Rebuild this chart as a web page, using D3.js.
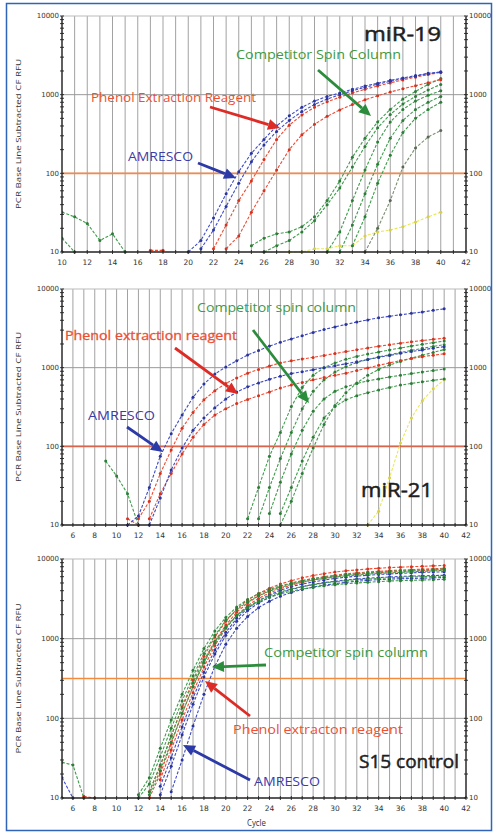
<!DOCTYPE html>
<html>
<head>
<meta charset="utf-8">
<script src="https://cdn.jsdelivr.net/npm/d3@7"></script>
<style>
  body { margin: 0; background: #fff; }
  svg { display: block; }
</style>
</head>
<body>
<svg width="496" height="834"></svg>
<script>
// ---- tick labels ----
const xLabelsMir19 = [10, 12, 14, 16, 18, 20, 22, 24, 26, 28, 30, 32, 34, 36, 38, 40, 42];
const xLabelsWide = [6, 8, 10, 12, 14, 16, 18, 20, 22, 24, 26, 28, 30, 32, 34, 36, 38, 40, 42];
const yLabels = [10, 100, 1000, 10000];

// ---- miR-19 (values per cycle, first value at the start cycle) ----
const m19BlueA = [10, 14, 27, 55, 105, 180, 270, 400, 540, 690, 830, 950, 1050, 1170, 1290, 1400, 1520, 1630, 1750, 1870, 1950];
const m19BlueB = [11, 19, 38, 75, 140, 230, 340, 470, 610, 750, 880, 1000, 1120, 1240, 1360, 1480, 1600, 1720, 1840, 1930];
const m19RedA = [11, 22, 45, 80, 150, 270, 410, 550, 690, 810, 930, 1050, 1170, 1290, 1410, 1540, 1670, 1800, 1920];
const m19RedB = [11, 16, 32, 60, 110, 200, 310, 420, 530, 640, 750, 860, 970, 1080, 1190, 1300, 1420, 1550];
const m19RedNoise = [10.5, 10.5];
const m19Green1 = [12, 15, 17, 18, 21, 28, 45, 80, 160, 280, 450, 650, 880, 1100, 1350, 1600];
const m19Green2 = [10, 12, 14, 18, 25, 40, 65, 120, 220, 380, 560, 760, 950, 1150, 1350];
const m19Green3 = [10, 18, 45, 110, 250, 450, 650, 830, 980, 1120];
const m19Green4 = [10, 22, 55, 130, 280, 470, 650, 800, 950];
const m19Green5 = [12, 28, 75, 170, 330, 500, 650, 800];
const m19Green6 = [10, 20, 45, 120, 210, 290, 350];
const m19NoiseA = [32, 28, 23, 14, 17, 10];
const m19NoiseB = [15, 10];
const m19Yellow = [10, 10, 11, 11, 12, 12, 16, 18, 19, 21, 24, 28, 32];

// ---- miR-21 ----
const m21BlueA = [10, 13, 30, 75, 145, 250, 420, 620, 830, 1020, 1220, 1450, 1650, 1880, 2100, 2320, 2550, 2800, 3050, 3300, 3550, 3800, 4050, 4300, 4500, 4700, 4900, 5100, 5350, 5600];
const m21RedA = [12, 20, 45, 90, 170, 270, 390, 510, 630, 740, 850, 950, 1050, 1150, 1220, 1290, 1350, 1430, 1510, 1600, 1690, 1780, 1870, 1960, 2050, 2130, 2210, 2290, 2370];
const m21BlueB = [10, 22, 50, 95, 160, 230, 310, 400, 490, 570, 640, 710, 780, 840, 890, 940, 1000, 1060, 1120, 1190, 1270, 1350, 1430, 1520, 1600, 1680, 1770, 1850];
const m21RedB = [12, 25, 45, 80, 130, 190, 250, 300, 350, 395, 440, 490, 550, 600, 650, 700, 750, 800, 850, 920, 990, 1070, 1150, 1230, 1310, 1380, 1440, 1500];
const m21RedNoise = [12, 10];
const m21GreenNoise = [65, 42, 25, 10];
const m21Green1 = [12, 30, 75, 150, 320, 560, 800, 1000, 1150, 1280, 1390, 1490, 1580, 1680, 1780, 1880, 1980, 2080, 2180];
const m21Green2 = [12, 30, 70, 150, 300, 500, 700, 880, 1030, 1160, 1270, 1370, 1460, 1560, 1660, 1760, 1860, 1960];
const m21Green3 = [14, 35, 80, 160, 280, 400, 500, 570, 630, 680, 720, 760, 800, 840, 880, 920, 960];
const m21Green4 = [14, 30, 65, 130, 230, 320, 390, 440, 480, 520, 560, 600, 630, 660, 690, 720];
const m21Green5 = [10, 20, 45, 95, 190, 330, 480, 640, 800, 950, 1080, 1200, 1320, 1440, 1560, 1700];
const m21Yellow = [10, 15, 40, 110, 230, 380, 540, 700];

// ---- S15 control ----
const s15Green1 = [11, 18, 42, 95, 200, 400, 750, 1250, 1850, 2500, 3100, 3650, 4150, 4600, 5000, 5350, 5650, 5900, 6150, 6350, 6550, 6700, 6850, 7000, 7100, 7200, 7300, 7400, 7500];
const s15Green2 = [10, 15, 33, 75, 165, 340, 650, 1100, 1700, 2300, 2900, 3450, 3950, 4400, 4800, 5150, 5450, 5700, 5950, 6150, 6300, 6450, 6600, 6700, 6800, 6900, 7000, 7100, 7200];
const s15Green3 = [12, 26, 60, 135, 280, 540, 920, 1400, 1950, 2450, 2900, 3300, 3650, 3950, 4200, 4400, 4600, 4750, 4900, 5000, 5100, 5200, 5300, 5350, 5400, 5450, 5500, 5550];
const s15Green4 = [11, 22, 50, 115, 250, 500, 880, 1380, 1950, 2500, 3000, 3450, 3850, 4200, 4500, 4750, 5000, 5200, 5350, 5500, 5600, 5700, 5800, 5900, 5950, 6000, 6050, 6100];
const s15Red1 = [12, 25, 60, 140, 300, 600, 1050, 1650, 2350, 3050, 3700, 4300, 4850, 5350, 5800, 6200, 6550, 6850, 7100, 7300, 7500, 7650, 7800, 7900, 8000, 8100, 8200, 8300];
const s15Red2 = [10, 20, 48, 115, 250, 510, 920, 1480, 2150, 2800, 3450, 4000, 4500, 4950, 5350, 5700, 6000, 6250, 6500, 6700, 6850, 7000, 7150, 7250, 7350, 7450, 7550, 7650];
const s15Red3 = [17, 40, 95, 210, 440, 820, 1350, 1950, 2600, 3200, 3750, 4250, 4700, 5100, 5450, 5750, 6000, 6250, 6450, 6600, 6750, 6850, 6950, 7050, 7150, 7250, 7350];
const s15Blue1 = [14, 32, 78, 180, 380, 720, 1200, 1800, 2400, 3000, 3550, 4050, 4500, 4850, 5150, 5450, 5700, 5900, 6100, 6250, 6400, 6500, 6600, 6700, 6800, 6850, 6900];
const s15Blue2 = [11, 25, 62, 150, 330, 640, 1100, 1650, 2250, 2800, 3300, 3750, 4150, 4500, 4800, 5050, 5250, 5450, 5600, 5750, 5850, 5950, 6050, 6100, 6150, 6200, 6250];
const s15Blue3 = [12, 30, 80, 200, 450, 850, 1350, 1900, 2450, 2950, 3400, 3800, 4150, 4450, 4700, 4900, 5100, 5250, 5400, 5500, 5600, 5650, 5700, 5750, 5800, 5850];
const s15GreenNoise = [28, 26, 10];
const s15BlueNoise = [18, 10];
const s15RedNoise = [10.5, 10];

const col = { blue: "#3f4cc4", red: "#ef4b33", green: "#3f9c4c", yellow: "#e8e85a", gray: "#7b8f70" };
const dot = { blue: "#2b35a0", red: "#d8321e", green: "#2a7e36", yellow: "#d8d040", gray: "#5a6a52" };

const panels = [
  {
    id: 1, top: 16, bottom: 252, xDomain: [10, 42], xLabels: xLabelsMir19,
    threshold: 100, thColor: "#f28a4c",
    series: [
      { c: "yellow", s: 28, v: m19Yellow },
      { c: "green", s: 10, v: m19NoiseA },
      { c: "green", s: 10, v: m19NoiseB },
      { c: "green", s: 25, v: m19Green1 },
      { c: "green", s: 26, v: m19Green2 },
      { c: "green", s: 31, v: m19Green3 },
      { c: "green", s: 32, v: m19Green4 },
      { c: "green", s: 33, v: m19Green5 },
      { c: "gray", s: 34, v: m19Green6 },
      { c: "red", s: 17, v: m19RedNoise },
      { c: "red", s: 22, v: m19RedA },
      { c: "red", s: 23, v: m19RedB },
      { c: "blue", s: 20, v: m19BlueA },
      { c: "blue", s: 21, v: m19BlueB }
    ]
  },
  {
    id: 2, top: 289, bottom: 525, xDomain: [5, 42], xLabels: xLabelsWide,
    threshold: 100, thColor: "#d8654c",
    series: [
      { c: "yellow", s: 33, v: m21Yellow },
      { c: "green", s: 9, v: m21GreenNoise },
      { c: "green", s: 22, v: m21Green1 },
      { c: "green", s: 23, v: m21Green2 },
      { c: "green", s: 24, v: m21Green3 },
      { c: "green", s: 25, v: m21Green4 },
      { c: "green", s: 25, v: m21Green5 },
      { c: "red", s: 11, v: m21RedNoise },
      { c: "red", s: 12, v: m21RedA },
      { c: "red", s: 13, v: m21RedB },
      { c: "blue", s: 11, v: m21BlueA },
      { c: "blue", s: 13, v: m21BlueB }
    ]
  },
  {
    id: 3, top: 559, bottom: 798, xDomain: [5, 42], xLabels: xLabelsWide,
    threshold: 316, thColor: "#f58a3a",
    series: [
      { c: "green", s: 5, v: s15GreenNoise },
      { c: "blue", s: 5, v: s15BlueNoise },
      { c: "red", s: 7, v: s15RedNoise },
      { c: "blue", s: 14, v: s15Blue1 },
      { c: "blue", s: 14, v: s15Blue2 },
      { c: "blue", s: 15, v: s15Blue3 },
      { c: "red", s: 13, v: s15Red1 },
      { c: "red", s: 13, v: s15Red2 },
      { c: "red", s: 14, v: s15Red3 },
      { c: "green", s: 12, v: s15Green1 },
      { c: "green", s: 12, v: s15Green2 },
      { c: "green", s: 13, v: s15Green3 },
      { c: "green", s: 13, v: s15Green4 }
    ]
  }
];

const svg = d3.select("svg");
const left = 62, right = 466;
const tickFont = "DejaVu Sans, sans-serif";
const labelFont = "Open Sans, Noto Sans, sans-serif";

// outer frame
svg.append("rect")
  .attr("x", 6.5).attr("y", 3.5).attr("width", 485).attr("height", 827)
  .attr("fill", "none").attr("stroke", "#2f64b8").attr("stroke-width", 1.5);

function drawPanel(p) {
  const x = d3.scaleLinear().domain(p.xDomain).range([left, right]);
  const y = d3.scaleLog().domain([10, 10000]).range([p.bottom, p.top]);
  const g = svg.append("g");

  // vertical grid, one per cycle
  const cycles = d3.range(Math.ceil(p.xDomain[0]), p.xDomain[1] + 1);
  g.append("g").selectAll("line").data(cycles).join("line")
    .attr("x1", d => x(d)).attr("x2", d => x(d))
    .attr("y1", p.top).attr("y2", p.bottom)
    .attr("stroke", "#a2a2a2").attr("stroke-width", 1);

  // horizontal grid at decades
  g.append("g").selectAll("line").data([100, 1000]).join("line")
    .attr("x1", left).attr("x2", right)
    .attr("y1", d => y(d)).attr("y2", d => y(d))
    .attr("stroke", "#9a9a9a").attr("stroke-width", 1);

  // threshold
  g.append("line")
    .attr("x1", left).attr("x2", right)
    .attr("y1", y(p.threshold)).attr("y2", y(p.threshold))
    .attr("stroke", p.thColor).attr("stroke-width", 1.6);

  // curves
  const clipId = "clip" + p.id;
  svg.append("clipPath").attr("id", clipId).append("rect")
    .attr("x", left).attr("y", p.top - 3)
    .attr("width", right - left).attr("height", p.bottom - p.top + 6);
  const cg = g.append("g").attr("clip-path", `url(#${clipId})`);
  const line = d3.line().x(d => x(d[0])).y(d => y(d[1]));
  p.series.forEach(s => {
    const pts = s.v.map((v, i) => [s.s + i, v]);
    cg.append("path").datum(pts)
      .attr("fill", "none").attr("stroke", col[s.c])
      .attr("stroke-width", 1.1).attr("stroke-dasharray", "3,1.6")
      .attr("d", line);
    cg.append("g").selectAll("circle").data(pts).join("circle")
      .attr("cx", d => x(d[0])).attr("cy", d => y(d[1]))
      .attr("r", 1.5).attr("fill", dot[s.c]);
  });

  // axes
  const axisColor = "#222";
  const minor = y.ticks();
  g.append("line").attr("x1", left).attr("x2", left).attr("y1", p.top).attr("y2", p.bottom)
    .attr("stroke", axisColor).attr("stroke-width", 1.3);
  g.append("line").attr("x1", right).attr("x2", right).attr("y1", p.top).attr("y2", p.bottom)
    .attr("stroke", axisColor).attr("stroke-width", 1.3);
  g.append("line").attr("x1", left).attr("x2", right).attr("y1", p.bottom).attr("y2", p.bottom)
    .attr("stroke", axisColor).attr("stroke-width", 1.3);
  g.append("line").attr("x1", left).attr("x2", right).attr("y1", p.top).attr("y2", p.top)
    .attr("stroke", "#bbb").attr("stroke-width", 1);

  [left, right].forEach(ax => {
    g.append("g").selectAll("line").data(minor).join("line")
      .attr("x1", ax - 2).attr("x2", ax + 2)
      .attr("y1", d => y(d)).attr("y2", d => y(d))
      .attr("stroke", axisColor).attr("stroke-width", 0.9);
  });
  g.append("g").selectAll("line").data(cycles).join("line")
    .attr("x1", d => x(d)).attr("x2", d => x(d))
    .attr("y1", p.bottom - 2).attr("y2", p.bottom + 2)
    .attr("stroke", axisColor).attr("stroke-width", 0.9);

  g.append("g").selectAll("text").data(yLabels).join("text")
    .attr("x", left - 3).attr("y", d => y(d)).attr("dy", "0.35em")
    .attr("text-anchor", "end").attr("font-family", tickFont)
    .attr("font-size", 7).attr("fill", "#333").text(d => d);
  g.append("g").selectAll("text").data(yLabels).join("text")
    .attr("x", right + 3).attr("y", d => y(d)).attr("dy", "0.35em")
    .attr("text-anchor", "start").attr("font-family", tickFont)
    .attr("font-size", 7).attr("fill", "#333").text(d => d);
  g.append("g").selectAll("text").data(p.xLabels).join("text")
    .attr("x", d => x(d)).attr("y", p.bottom + 13)
    .attr("text-anchor", "middle").attr("font-family", tickFont)
    .attr("font-size", 7.5).attr("fill", "#333").text(d => d);

  g.append("text")
    .attr("transform", `translate(21,${(p.top + p.bottom) / 2}) rotate(-90)`)
    .attr("text-anchor", "middle").attr("font-family", labelFont)
    .attr("font-size", 7).attr("fill", "#333")
    .attr("textLength", 150).attr("lengthAdjust", "spacingAndGlyphs")
    .text("PCR Base Line Subtracted CF RFU");
}

panels.forEach(drawPanel);

// ---- annotations ----
function label(txt, x0, x1, yb, size, color, thick) {
  svg.append("text").attr("x", x0).attr("y", yb)
    .attr("font-family", labelFont).attr("font-size", size)
    .attr("fill", color)
    .attr("stroke", thick ? color : "none").attr("stroke-width", thick || 0)
    .attr("textLength", x1 - x0).attr("lengthAdjust", "spacingAndGlyphs")
    .text(txt);
}
function arrow(x1, y1, x2, y2, color) {
  const a = Math.atan2(y2 - y1, x2 - x1);
  const len = 12, hw = 5.5;
  const bx = x2 - len * Math.cos(a), by = y2 - len * Math.sin(a);
  svg.append("line").attr("x1", x1).attr("y1", y1).attr("x2", bx).attr("y2", by)
    .attr("stroke", color).attr("stroke-width", 2.8);
  const pts = [
    [x2, y2],
    [bx + hw * Math.sin(a), by - hw * Math.cos(a)],
    [bx - hw * Math.sin(a), by + hw * Math.cos(a)]
  ];
  svg.append("polygon").attr("points", pts.map(d => d.join(",")).join(" ")).attr("fill", color);
}

const cGreen = "#3f9a42", cRed = "#ec5034", cBlue = "#3c3ca6";
const aGreen = "#2b8c3c", aRed = "#dd2c26", aBlue = "#2c3aa8";

// miR-19
label("miR-19", 364, 441, 41, 20, "#1e1e1e", 0.5);
label("Competitor Spin Column", 236, 401, 59, 12, cGreen);
arrow(318, 70, 371, 116, aGreen);
label("Phenol Extraction Reagent", 91, 256, 102, 12, cRed);
arrow(210, 107, 280, 128, aRed);
label("AMRESCO", 128, 193, 161, 12, cBlue);
arrow(198, 163, 236, 178, aBlue);

// miR-21
label("Competitor spin column", 197, 356, 312, 12, cGreen);
arrow(253, 330, 309, 403, aGreen);
label("Phenol extraction reagent", 65, 237, 340, 12, cRed, 0.3);
arrow(175, 348, 238, 394, aRed);
label("AMRESCO", 88, 155, 420, 12, cBlue);
arrow(127, 427, 163, 452, aBlue);
label("miR-21", 361, 433, 497, 20, "#1e1e1e", 0.5);

// S15 control
label("Competitor spin column", 264, 428, 657, 12, cGreen);
arrow(266, 665, 212, 667, aGreen);
label("Phenol extracton reagent", 233, 403, 734, 12, cRed);
arrow(250, 716, 205, 681, aRed);
label("S15 control", 359, 459, 768, 19, "#1e1e1e", 0.5);
label("AMRESCO", 254, 320, 786, 12, cBlue);
arrow(250, 780, 183, 745, aBlue);
label("Cycle", 247, 266, 826, 9, "#333");
</script>
</body>
</html>
